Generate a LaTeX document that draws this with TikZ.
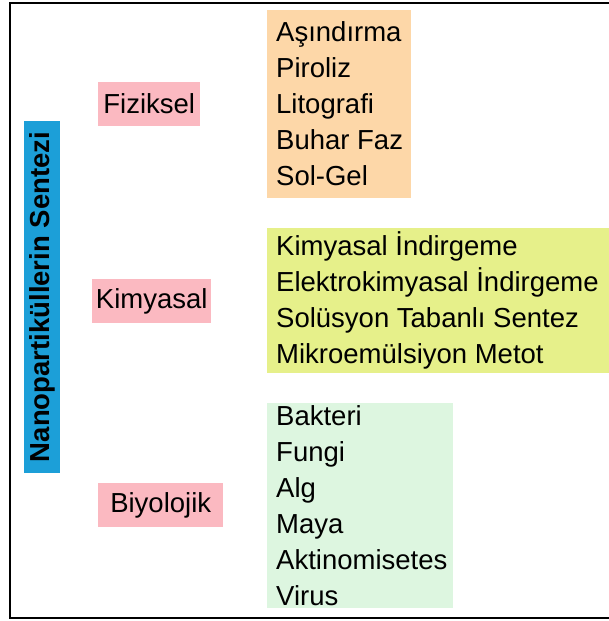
\documentclass[tikz,border=0pt]{standalone}
\usepackage{fontspec}
\setmainfont{Liberation Sans}
\usetikzlibrary{positioning}
\definecolor{barblue}{HTML}{1C9FD8}
\definecolor{catpink}{HTML}{FBB9C1}
\definecolor{peach}{HTML}{FDD7A8}
\definecolor{lime}{HTML}{E6F08A}
\definecolor{mint}{HTML}{DDF6E0}
\tikzset{
  catbox/.style={fill=catpink,anchor=west,inner sep=0pt,minimum height=44pt,font=\fontsize{27.5}{30}\selectfont},
  listtext/.style={anchor=west,align=left,inner xsep=9pt,inner ysep=0pt,font=\fontsize{27.5}{36}\selectfont}
}

\begin{document}
\begin{tikzpicture}[x=1pt,y=-1pt]
\useasboundingbox (0,0) rectangle (609,621);
% frame, open to the right
\draw[line width=2.5pt] (609,3) -| (10,618) -- (609,618);
% main title bar
\node[fill=barblue,rotate=90,minimum width=352pt,minimum height=36pt,inner sep=0pt,
  font=\fontsize{27.5}{30}\selectfont\bfseries] (title) at (42,297) {Nanopartiküllerin Sentezi};
% categories
\node[catbox,minimum width=102pt] (fiz) at (98,104) {Fiziksel};
\node[catbox,minimum width=119pt] (kim) at (92,301) {Kimyasal};
\node[catbox,minimum width=125pt] (biy) at (98,505) {Biyolojik};
% method lists
\fill[peach] (267,10) rectangle (411,198);
\fill[lime] (267,228) rectangle (609,373);
\fill[mint] (267,403) rectangle (453,608);
\node[listtext] (fizlist) at (267,104)
  {Aşındırma\\Piroliz\\Litografi\\Buhar Faz\\Sol-Gel};
\node[listtext] (kimlist) at (267,300.5)
  {Kimyasal İndirgeme\\Elektrokimyasal İndirgeme\\Solüsyon Tabanlı Sentez\\Mikroemülsiyon Metot};
\node[listtext] (biylist) at (267,505.5)
  {Bakteri\\Fungi\\Alg\\Maya\\Aktinomisetes\\Virus};
\end{tikzpicture}
\end{document}
